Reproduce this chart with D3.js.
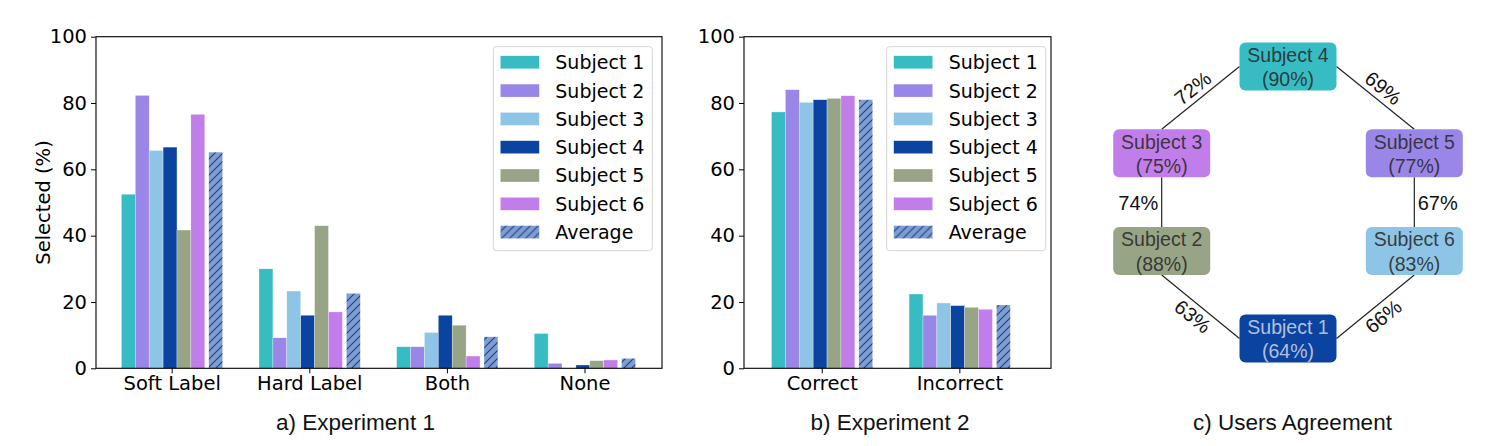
<!DOCTYPE html>
<html>
<head>
<meta charset="utf-8">
<script src="https://cdnjs.cloudflare.com/ajax/libs/d3/7.8.5/d3.min.js"></script>
<style>
  html, body { margin: 0; padding: 0; background: #fff; }
  svg { display: block; }
</style>
</head>
<body>
<svg id="chart" width="1495" height="446"></svg>
<script>
// ---------------- DATA ----------------
const seriesNames = ["Subject 1", "Subject 2", "Subject 3", "Subject 4", "Subject 5", "Subject 6", "Average"];
const seriesColors = ["#37bcc4", "#9a86e6", "#8ec5e6", "#0b44a0", "#98a486", "#c17de9", "#7b9dd8"];

const exp1Categories = ["Soft Label", "Hard Label", "Both", "None"];
const exp1Subject1 = [52.5, 30.0, 6.5, 10.5];
const exp1Subject2 = [82.3, 9.2, 6.5, 1.5];
const exp1Subject3 = [65.7, 23.3, 10.8, 0.0];
const exp1Subject4 = [66.7, 16.0, 16.0, 1.0];
const exp1Subject5 = [41.7, 43.0, 13.0, 2.3];
const exp1Subject6 = [76.6, 17.0, 3.7, 2.5];
const exp1Average  = [65.2, 22.6, 9.5, 3.0];

const exp2Categories = ["Correct", "Incorrect"];
const exp2Subject1 = [77.3, 22.4];
const exp2Subject2 = [84.0, 16.0];
const exp2Subject3 = [80.2, 19.7];
const exp2Subject4 = [81.0, 18.9];
const exp2Subject5 = [81.4, 18.4];
const exp2Subject6 = [82.2, 17.8];
const exp2Average  = [81.0, 19.1];

const yTicks = [0, 20, 40, 60, 80, 100];

// Users agreement
const agreeNodes = ["Subject 1", "Subject 2", "Subject 3", "Subject 4", "Subject 5", "Subject 6"];
const agreeSelf  = [64, 88, 75, 90, 77, 83];
const agreeNodeColor = ["#0b44a0", "#98a486", "#c17de9", "#37bcc4", "#9a86e6", "#8ec5e6"];
const agreeEdgeFrom = ["Subject 4", "Subject 4", "Subject 3", "Subject 5", "Subject 2", "Subject 6"];
const agreeEdgeTo   = ["Subject 3", "Subject 5", "Subject 2", "Subject 6", "Subject 1", "Subject 1"];
const agreeEdgeVal  = [72, 69, 74, 67, 63, 66];

const subtitles = ["a) Experiment 1", "b) Experiment 2", "c) Users Agreement"];

// ---------------- DRAW ----------------
const svg = d3.select("#chart");
const AX_FONT = "'DejaVu Sans', sans-serif";
const AR_FONT = "'Liberation Sans', Arial, sans-serif";

const defs = svg.append("defs");
const pat = defs.append("pattern")
  .attr("id", "hatch").attr("patternUnits", "userSpaceOnUse")
  .attr("width", 8).attr("height", 8);
pat.append("rect").attr("width", 8).attr("height", 8).attr("fill", seriesColors[6]);
pat.append("path").attr("d", "M0,8 L8,0 M-1,1 L1,-1 M7,9 L9,7")
  .attr("stroke", "#1a2645").attr("stroke-width", 1.1).attr("stroke-opacity", 0.8);

const y = d3.scaleLinear().domain([0, 100]).range([368.3, 36.7]);

// bar offsets (in category units) and width
const barW = 0.101;
const offsets = [0, 1, 2, 3, 4, 5].map(k => -0.315 + k * barW).concat([0.32]);

function barChart(opts) {
  const { left, right, xdom, cats, series, legendX, showYLabel } = opts;
  const g = svg.append("g");
  const x = d3.scaleLinear().domain(xdom).range([left, right]);

  // bars
  series.forEach((vals, s) => {
    g.selectAll(null).data(vals).enter().append("rect")
      .attr("x", (d, i) => x(i + offsets[s] - barW / 2))
      .attr("width", x(barW) - x(0))
      .attr("y", d => y(d))
      .attr("height", d => y(0) - y(d))
      .attr("fill", s === 6 ? "url(#hatch)" : seriesColors[s])
      .attr("stroke", "#ffffff").attr("stroke-width", 0.5).attr("stroke-opacity", 0.6);
  });

  // y axis
  const ya = g.append("g").attr("transform", `translate(${left},0)`)
    .call(d3.axisLeft(y).tickValues(yTicks).tickSize(5).tickPadding(4));
  ya.select(".domain").remove();
  ya.selectAll("text").attr("font-family", AX_FONT).attr("font-size", 19.5).attr("fill", "#000");
  ya.selectAll("line").attr("stroke", "#000");

  // x axis
  const xa = g.append("g").attr("transform", `translate(0,${y(0)})`)
    .call(d3.axisBottom(x).tickValues(cats.map((c, i) => i)).tickFormat(i => cats[i]).tickSize(5).tickPadding(3));
  xa.select(".domain").remove();
  xa.selectAll("text").attr("font-family", AX_FONT).attr("font-size", 19.5).attr("fill", "#000");
  xa.selectAll("line").attr("stroke", "#000");

  // frame
  g.append("rect").attr("x", left).attr("y", y(100)).attr("width", right - left).attr("height", y(0) - y(100))
    .attr("fill", "none").attr("stroke", "#000").attr("stroke-width", 1.1);

  if (showYLabel) {
    g.append("text").attr("transform", `translate(43,${(y(0) + y(100)) / 2}) rotate(-90)`)
      .attr("text-anchor", "middle").attr("dominant-baseline", "central")
      .attr("font-family", AX_FONT).attr("font-size", 19.5)
      .text("Selected (%)");
  }

  // legend
  const lg = g.append("g").attr("transform", `translate(${legendX},46.7)`);
  lg.append("rect").attr("width", 159).attr("height", 204).attr("rx", 3)
    .attr("fill", "#fff").attr("fill-opacity", 0.85).attr("stroke", "#d5d5d5").attr("stroke-width", 1);
  seriesNames.forEach((n, s) => {
    const cy = 15.6 + s * 28.3;
    lg.append("rect").attr("x", 7).attr("y", cy - 6.5).attr("width", 39).attr("height", 13)
      .attr("fill", s === 6 ? "url(#hatch)" : seriesColors[s])
      .attr("stroke", "#ffffff").attr("stroke-width", 0.5).attr("stroke-opacity", 0.6);
    lg.append("text").attr("x", 62).attr("y", cy + 7).attr("font-family", AX_FONT).attr("font-size", 19)
      .text(n);
  });
}

barChart({
  left: 96, right: 662, xdom: [-0.55, 3.563], cats: exp1Categories,
  series: [exp1Subject1, exp1Subject2, exp1Subject3, exp1Subject4, exp1Subject5, exp1Subject6, exp1Average],
  legendX: 493.3, showYLabel: true
});
barChart({
  left: 744, right: 1051, xdom: [-0.565, 1.666], cats: exp2Categories,
  series: [exp2Subject1, exp2Subject2, exp2Subject3, exp2Subject4, exp2Subject5, exp2Subject6, exp2Average],
  legendX: 886.7, showYLabel: false
});

// ---------------- Users agreement diagram ----------------
const cg = svg.append("g");
// layout: column (0..2) and row (0..3) of each node in the ring
const layout = { "Subject 4": [1, 0], "Subject 3": [0, 1], "Subject 5": [2, 1],
                 "Subject 2": [0, 2], "Subject 6": [2, 2], "Subject 1": [1, 3] };
const colX = d3.scaleLinear().domain([0, 2]).range([1161.7, 1414.3]);
const rowY = d3.scaleOrdinal().domain([0, 1, 2, 3]).range([66.5, 153.3, 251, 338.5]);
const BW = 97, BH = 48;
const pos = n => ({ x: colX(layout[n][0]), y: rowY(layout[n][1]) });
const ringC = { x: 1288, y: 202.5 };

function anchor(a, b) {
  const pa = pos(a), pb = pos(b);
  if (layout[a][0] === layout[b][0]) return { x: pa.x, y: pa.y + (pb.y > pa.y ? BH / 2 : -BH / 2) };
  if (layout[a][0] === 1) return { x: pa.x + (pb.x > pa.x ? BW / 2 : -BW / 2), y: pa.y };
  return { x: pa.x, y: pa.y + (pb.y > pa.y ? BH / 2 : -BH / 2) };
}

agreeEdgeFrom.forEach((f, i) => {
  const t = agreeEdgeTo[i];
  const p1 = anchor(f, t), p2 = anchor(t, f);
  cg.append("line").attr("x1", p1.x).attr("y1", p1.y).attr("x2", p2.x).attr("y2", p2.y)
    .attr("stroke", "#222").attr("stroke-width", 1.2);
  const mx = (p1.x + p2.x) / 2, my = (p1.y + p2.y) / 2;
  let ang = Math.atan2(p2.y - p1.y, p2.x - p1.x) * 180 / Math.PI;
  if (ang > 90) ang -= 180;
  if (ang < -90) ang += 180;
  let lx, ly;
  const vertical = Math.abs(p1.x - p2.x) < 0.5;
  if (vertical) {
    lx = mx + (mx < ringC.x ? -23.4 : 23.4); ly = my + 1.3;
  } else {
    const dx = p2.x - p1.x, dy = p2.y - p1.y, L = Math.hypot(dx, dy);
    let nx = -dy / L, ny = dx / L;
    if ((mx - ringC.x) * nx + (my - ringC.y) * ny < 0) { nx = -nx; ny = -ny; }
    lx = mx + nx * 12.5; ly = my + ny * 12.5;
  }
  cg.append("text").attr("transform", `translate(${lx},${ly}) rotate(${vertical ? 0 : ang})`)
    .attr("text-anchor", "middle").attr("dominant-baseline", "central")
    .attr("font-family", AR_FONT).attr("font-size", 20).attr("fill", "#111")
    .text(agreeEdgeVal[i] + "%");
});

agreeNodes.forEach((n, i) => {
  const p = pos(n);
  const ng = cg.append("g").attr("transform", `translate(${p.x},${p.y})`);
  ng.append("rect").attr("x", -BW / 2).attr("y", -BH / 2).attr("width", BW).attr("height", BH)
    .attr("rx", 6).attr("fill", agreeNodeColor[i]);
  const tc = n === "Subject 1" ? "#c9d1e4" : "#2b2b2b";
  ng.append("text").attr("y", -4.8).attr("text-anchor", "middle").attr("font-family", AR_FONT)
    .attr("font-size", 19.5).attr("fill", tc).attr("fill-opacity", 0.9).text(n);
  ng.append("text").attr("y", 19.5).attr("text-anchor", "middle").attr("font-family", AR_FONT)
    .attr("font-size", 19.5).attr("fill", tc).attr("fill-opacity", 0.9).text("(" + agreeSelf[i] + "%)");
});

// subtitles
const subX = [355.5, 890, 1292.5];
subtitles.forEach((s, i) => {
  svg.append("text").attr("x", subX[i]).attr("y", 430).attr("text-anchor", "middle")
    .attr("font-family", AR_FONT).attr("font-size", 22.5).attr("fill", "#111").text(s);
});
</script>
</body>
</html>
